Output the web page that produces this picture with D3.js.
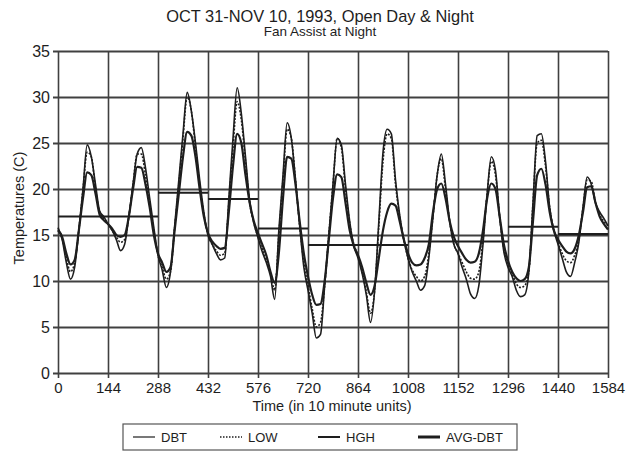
<!DOCTYPE html>
<html>
<head>
<meta charset="utf-8">
<script src="https://cdn.jsdelivr.net/npm/d3@7"></script>
<style>
  body { margin: 0; background: #fff; }
  svg { font-family: "Liberation Sans", Arial, sans-serif; }
</style>
</head>
<body>
<svg width="638" height="454"></svg>
<script>

// time in 10 minute units, one reading every 2 hours
var times = d3.range(0, 1585, 12);

var dbt = [15.8,14.5,12.0,10.2,11.5,15.5,20.0,24.8,23.5,20.5,17.6,17.0,16.2,15.5,14.5,13.3,
  14.0,17.0,20.5,23.8,24.5,22.3,19.0,15.8,12.8,11.2,9.3,11.0,16.0,21.0,26.0,30.5,
  28.5,25.0,21.0,17.5,15.0,14.0,13.0,12.3,12.5,19.0,25.5,31.0,28.2,23.5,18.7,16.3,
  14.7,13.2,12.0,10.5,8.0,15.5,21.5,27.2,25.5,21.0,16.0,11.5,9.0,6.5,3.8,4.2,
  9.5,15.0,20.5,25.5,24.8,20.5,16.5,13.8,12.5,10.8,8.5,5.5,9.0,16.5,24.0,26.5,
  26.0,21.0,17.2,14.5,12.5,11.0,10.0,9.0,9.5,12.5,17.0,21.5,23.8,20.5,16.5,14.0,
  13.0,11.5,10.2,8.6,8.1,9.5,14.0,19.5,23.5,22.0,17.0,13.2,11.5,10.5,9.0,8.3,
  8.5,11.0,18.5,25.8,26.0,23.0,18.0,15.5,14.0,12.5,11.0,10.5,12.0,14.2,18.0,21.3,
  20.5,18.5,17.5,16.8,16.0];

var low = [15.6,14.6,12.5,11.0,12.0,15.5,20.0,24.0,23.5,20.0,17.5,16.8,16.2,15.5,14.8,14.2,
  14.5,17.0,20.5,23.8,23.8,21.5,18.5,15.5,12.8,11.5,10.2,11.0,15.8,20.5,25.5,30.0,
  28.5,24.5,20.5,17.3,15.0,14.0,13.3,12.8,13.0,18.5,24.5,29.5,27.5,23.0,18.5,16.3,
  14.8,13.5,12.3,10.8,9.0,15.0,21.0,26.5,25.5,21.0,16.0,12.0,9.5,7.0,5.0,5.5,
  9.5,15.0,20.5,25.5,24.5,20.0,16.3,14.0,12.8,11.0,8.8,6.5,9.0,16.0,23.0,26.0,
  25.5,20.5,17.0,14.5,12.5,11.2,10.5,10.0,10.5,13.0,17.0,21.5,23.3,20.0,16.5,14.0,
  13.0,12.0,11.0,10.3,10.2,11.0,14.5,19.5,23.0,21.5,17.0,13.5,11.8,10.8,9.7,9.3,
  9.5,11.0,18.5,25.0,25.3,22.5,18.0,15.5,14.2,13.0,12.2,12.0,12.8,14.5,18.0,21.0,
  20.8,18.5,17.2,16.5,16.0];

var hgh = [15.5,14.8,13.0,11.8,12.3,15.5,19.0,21.8,21.5,19.5,17.2,16.6,16.2,15.7,15.0,14.8,
  15.0,17.0,20.0,22.4,22.3,20.5,18.0,15.0,13.0,12.0,11.0,11.5,15.5,19.5,23.5,26.2,
  25.8,23.5,20.0,17.0,15.2,14.3,13.8,13.5,13.6,17.5,22.5,26.0,25.0,21.5,18.5,16.5,
  15.2,14.0,12.8,11.0,9.8,13.0,19.0,23.5,23.3,20.5,16.5,13.0,10.5,8.5,7.4,7.5,
  10.0,14.5,19.0,21.6,21.3,18.5,15.5,13.8,12.8,11.5,9.8,8.5,9.5,12.5,15.5,17.5,
  18.4,18.2,16.5,14.5,13.0,12.0,11.7,11.8,12.5,14.0,17.5,20.0,20.6,19.0,16.5,14.8,
  13.8,13.0,12.3,12.0,12.1,13.0,15.5,19.0,20.6,20.0,17.0,14.0,12.2,11.0,10.3,10.0,
  10.2,11.5,16.5,21.5,22.2,20.5,17.5,15.5,14.5,13.8,13.2,13.0,13.5,15.0,17.5,20.2,
  20.3,18.5,17.0,16.2,15.6];

// daily mean of DBT, one value per 144 units
var avgStart = [0,144,288,432,576,720,864,1008,1152,1296,1440];
var avgDbt = [17.0,17.0,19.6,18.9,15.7,13.9,13.9,14.3,14.3,15.9,15.1];

var xTicks = [0,144,288,432,576,720,864,1008,1152,1296,1440,1584];
var yTicks = [0,5,10,15,20,25,30,35];

var legendNames = ["DBT","LOW","HGH","AVG-DBT"];

var svg = d3.select("svg");
var x = d3.scaleLinear().domain([0,1584]).range([58,608]);
var y = d3.scaleLinear().domain([0,35]).range([373,51]);
var ink = "#1e1e1e";
var grid = "#404040";

// grid + axes
svg.append("g")
  .attr("transform", "translate(0," + (y(0) + 5) + ")")
  .call(d3.axisBottom(x).tickValues(xTicks).tickFormat(d3.format("d"))
    .tickSizeInner(-(y(0) - y(35) + 5)).tickSizeOuter(0).tickPadding(6))
  .call(function(g){
    g.select(".domain").remove();
    g.selectAll("line").attr("stroke", grid).attr("stroke-width", 1.6);
    g.selectAll("text").attr("fill", ink).style("font-size", "15px").attr("dy", "0.6em");
  });

svg.append("g")
  .attr("transform", "translate(" + (x(0) - 5) + ",0)")
  .call(d3.axisLeft(y).tickValues(yTicks).tickSizeInner(-(x(1584) - x(0) + 5)).tickSizeOuter(0).tickPadding(3))
  .call(function(g){
    g.select(".domain").remove();
    g.selectAll("line").attr("stroke", grid).attr("stroke-width", 1.8);
    g.selectAll("text").attr("fill", ink).style("font-size", "16px");
  });

// series
function series(vals){
  return vals.map(function(v, i){ return [times[i], v]; });
}
var line = d3.line()
  .curve(d3.curveMonotoneX)
  .x(function(d){ return x(d[0]); })
  .y(function(d){ return y(d[1]); });

svg.append("path").datum(series(dbt))
  .attr("fill", "none").attr("stroke", ink).attr("stroke-width", 1.6).attr("d", line);
svg.append("path").datum(series(low))
  .attr("fill", "none").attr("stroke", ink).attr("stroke-width", 1.6)
  .attr("stroke-dasharray", "2,1.5").attr("d", line);
svg.append("path").datum(series(hgh))
  .attr("fill", "none").attr("stroke", ink).attr("stroke-width", 2.2).attr("d", line);

svg.append("g").selectAll("line")
  .data(avgDbt)
  .enter().append("line")
  .attr("x1", function(d, i){ return x(avgStart[i]); })
  .attr("x2", function(d, i){ return x(avgStart[i] + 144); })
  .attr("y1", function(d){ return y(d); })
  .attr("y2", function(d){ return y(d); })
  .attr("stroke", ink).attr("stroke-width", 2);

// titles
svg.append("text").attr("x", 320).attr("y", 22).attr("text-anchor", "middle")
  .style("font-size", "16.4px").attr("fill", ink)
  .text("OCT 31-NOV 10, 1993, Open Day & Night");
svg.append("text").attr("x", 320).attr("y", 36).attr("text-anchor", "middle")
  .style("font-size", "13.5px").attr("fill", ink)
  .text("Fan Assist at Night");

svg.append("text").attr("x", 332).attr("y", 411).attr("text-anchor", "middle")
  .style("font-size", "14.5px").attr("fill", ink)
  .text("Time (in 10 minute units)");

svg.append("text")
  .attr("transform", "translate(24,208) rotate(-90)")
  .attr("text-anchor", "middle")
  .style("font-size", "14.5px").attr("fill", ink)
  .text("Temperatures (C)");

// legend
var legend = svg.append("g");
legend.append("rect").attr("x", 123).attr("y", 424).attr("width", 394).attr("height", 26)
  .attr("fill", "none").attr("stroke", "#555").attr("stroke-width", 1.2);

var legX = [133, 220, 318, 418];
var legW = [1.2, 1.4, 2, 3];
var legDash = [null, "1.5,1.5", null, null];
legend.selectAll(".key")
  .data(legendNames)
  .enter().append("g")
  .each(function(d, i){
    var g = d3.select(this);
    g.append("line").attr("x1", legX[i]).attr("x2", legX[i] + 22)
      .attr("y1", 437).attr("y2", 437)
      .attr("stroke", ink).attr("stroke-width", legW[i])
      .attr("stroke-dasharray", legDash[i]);
    g.append("text").attr("x", legX[i] + 28).attr("y", 442)
      .style("font-size", "13px").attr("fill", ink).text(d);
  });

</script>
</body>
</html>
